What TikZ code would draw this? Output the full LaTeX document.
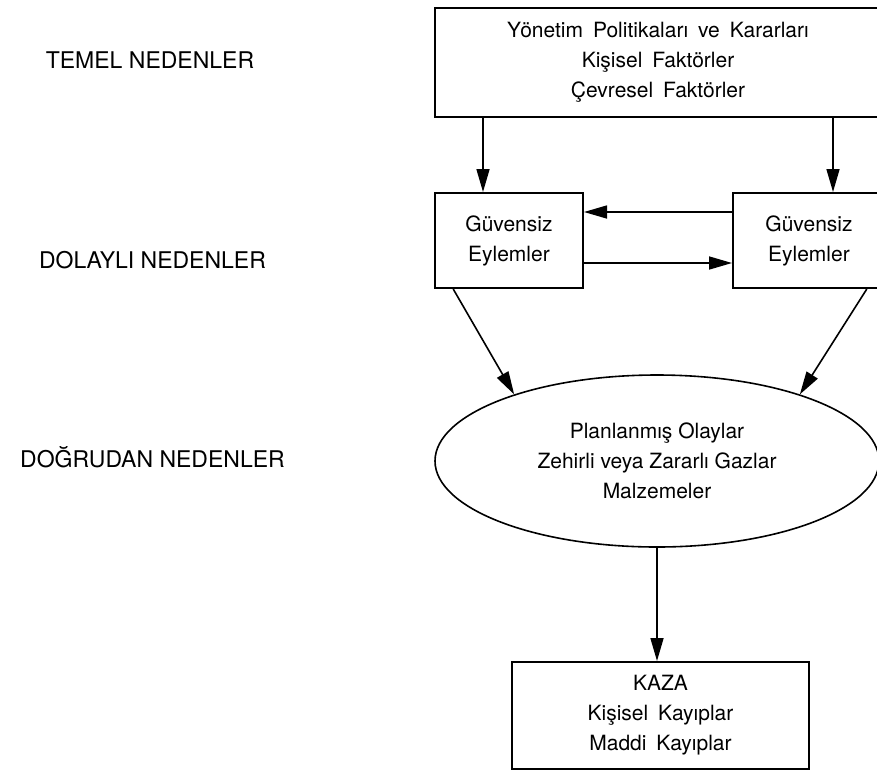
\documentclass[tikz,border=0pt]{standalone}
\usepackage{fontspec}
\setmainfont{TeX Gyre Heros}
\newfontfamily\widefont[WordSpace=1.7]{TeX Gyre Heros}
\usetikzlibrary{arrows.meta,shapes.geometric}

\begin{document}
\begin{tikzpicture}[
  x=0.5pt,y=-0.5pt,
  box/.style={draw,line width=1pt,align=center,inner sep=0pt,
              font=\fontsize{10.5}{15}\selectfont},
  oval/.style={draw,ellipse,line width=0.8pt,align=center,inner sep=0pt,
              font=\fontsize{10.5}{15}\selectfont},
  level/.style={anchor=base,font=\fontsize{11.5}{14}\selectfont},
  arr/.style={-{Triangle[length=11.5pt,width=6.5pt]},line width=0.8pt}
]
\useasboundingbox (0,0) rectangle (877,772);
\clip (0,0) rectangle (877,772);
% levels on the left
\node[level] (temel) at (150,68) {TEMEL NEDENLER};
\node[level] (dolayli) at (152.5,268) {DOLAYLI NEDENLER};
\node[level] (dogrudan) at (152.5,467) {DOĞRUDAN NEDENLER};
% chart
\node[box,minimum width=223pt,minimum height=54.5pt,font=\fontsize{10.5}{15}\widefont] (kok) at (658,62.5)
  {Yönetim Politikaları ve Kararları\\Kişisel Faktörler\\Çevresel Faktörler};
\node[box,minimum width=74pt,minimum height=47.5pt] (solg) at (509,240.5) {Güvensiz\\Eylemler};
\node[box,minimum width=76pt,minimum height=47.5pt] (sagg) at (809,240.5) {Güvensiz\\Eylemler};
\node[oval,minimum width=222pt,minimum height=86pt] (olay) at (657,461)
  {Planlanmış Olaylar\\Zehirli veya Zararlı Gazlar\\Malzemeler};
\node[box,minimum width=148.5pt,minimum height=53.5pt,font=\fontsize{10.5}{15}\widefont] (kaza) at (660.5,715.5)
  {KAZA\\Kişisel Kayıplar\\Maddi Kayıplar};
\coordinate (k1) at (483,0);
\coordinate (k2) at (833,0);
\coordinate (h1) at (0,212);
\coordinate (h2) at (0,263);
\draw[arr] (kok.south -| k1) -- (solg.north -| k1);
\draw[arr] (kok.south -| k2) -- (sagg.north -| k2);
\draw[arr] (sagg.west |- h1) -- (solg.east |- h1);
\draw[arr] (solg.east |- h2) -- (sagg.west |- h2);
\draw[arr] (solg.221) -- (olay.155);
\draw[arr] (sagg.320) -- (olay.25);
\draw[arr] (olay.south) -- (olay.south |- kaza.north);
\end{tikzpicture}
\end{document}
